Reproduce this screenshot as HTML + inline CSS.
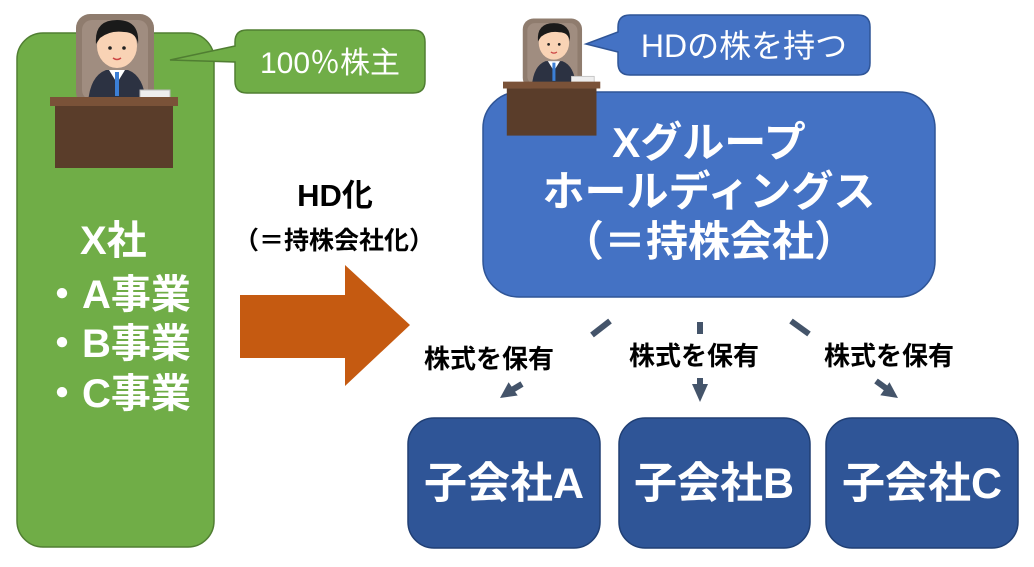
<!DOCTYPE html>
<html><head><meta charset="utf-8"><style>
html,body{margin:0;padding:0;background:#fff;}
svg{display:block;}
text{font-family:"Liberation Sans","Noto Sans CJK JP",sans-serif;}
</style></head><body>
<svg width="1034" height="567" viewBox="0 0 1034 567" xmlns="http://www.w3.org/2000/svg">
<defs>
<g id="fig">
  <rect x="26" y="6" width="78" height="92" rx="14" fill="#8f7c6e"/>
  <rect x="32" y="12" width="66" height="80" rx="10" fill="#a08d80"/>
  <path d="M38 95 Q40 68 56 62 L78 62 Q94 68 96 95 Z" fill="#2c3242"/>
  <path d="M59 62 L67 75 L75 62 Z" fill="#fff"/>
  <rect x="65" y="64" width="4" height="24" fill="#3b7fd6"/>
  <ellipse cx="67" cy="38" rx="20" ry="22" fill="#f9d3b5"/>
  <path d="M46 36 Q44 12 67 12 Q90 12 88 36 Q86 24 74 24 Q60 22 50 30 Z" fill="#1a1a1a"/>
  <circle cx="60" cy="40" r="1.8" fill="#222"/><circle cx="74" cy="40" r="1.8" fill="#222"/>
  <path d="M63 50 Q67 53 71 50" stroke="#c44" stroke-width="1.5" fill="none"/>
  <rect x="90" y="82" width="30" height="12" fill="#eee" stroke="#bbb"/>
  <rect x="0" y="89" width="128" height="9" fill="#7a5238"/>
  <rect x="5" y="98" width="118" height="62" fill="#5a3d2a"/>
</g>
</defs>

<rect x="17" y="33" width="197" height="514" rx="26" fill="#70ad47" stroke="#507e32" stroke-width="1.5"/>
<use href="#fig" x="50" y="8"/>
<path d="M247 30 H413 Q425 30 425 42 V81 Q425 93 413 93 H247 Q235 93 235 81 V62 L170 60 L235 46 V42 Q235 30 247 30 Z" fill="#70ad47" stroke="#507e32" stroke-width="1.5"/>
<text x="330" y="73" font-size="30" fill="#fff" text-anchor="middle">100％株主</text>

<g fill="#fff" font-size="40" font-weight="bold">
<text x="80" y="254">X社</text>
<text x="42" y="308">・A事業</text>
<text x="42" y="357">・B事業</text>
<text x="42" y="407">・C事業</text>
</g>

<text x="335" y="206" font-size="31" font-weight="bold" text-anchor="middle" fill="#000">HD化</text>
<text x="334" y="249" font-size="25" font-weight="bold" text-anchor="middle" fill="#000">（＝持株会社化）</text>
<polygon points="240,295 345,295 345,265 410,325 345,386 345,358 240,358" fill="#c55a11"/>

<rect x="483" y="92" width="452" height="205" rx="36" fill="#4472c4" stroke="#2f5597" stroke-width="1.5"/>
<use href="#fig" transform="translate(503,14) scale(0.76)"/>
<path d="M630 15 H858 Q870 15 870 27 V63 Q870 75 858 75 H630 Q618 75 618 63 V52 L586 44 L618 32 V27 Q618 15 630 15 Z" fill="#4472c4" stroke="#2f5597" stroke-width="1.5"/>
<text x="744" y="57" font-size="32" fill="#fff" text-anchor="middle">HDの株を持つ</text>
<g fill="#fff" font-size="42" font-weight="bold" text-anchor="middle">
<text x="709" y="157">Xグループ</text>
<text x="709" y="206">ホールディングス</text>
<text x="709" y="256">（＝持株会社）</text>
</g>

<g stroke="#44546a" stroke-width="6">
<line x1="610" y1="321" x2="592" y2="335"/>
<line x1="700" y1="322" x2="700" y2="334"/>
<line x1="791" y1="321" x2="809" y2="334"/>
<line x1="522" y1="384" x2="512" y2="390"/>
<line x1="700" y1="378" x2="700" y2="387"/>
<line x1="876" y1="381" x2="887" y2="389"/>
</g>
<polygon points="500,398 508.6,382.3 517.7,395.5" fill="#44546a"/>
<polygon points="692,384 708,384 700,402" fill="#44546a"/>
<polygon points="898,398 880.3,395.3 889.5,382.3" fill="#44546a"/>

<g font-size="26" font-weight="bold" fill="#000" text-anchor="middle">
<text x="489" y="368">株式を保有</text>
<text x="694" y="365">株式を保有</text>
<text x="889" y="365">株式を保有</text>
</g>

<g fill="#2f5597" stroke="#203f74" stroke-width="1.5">
<rect x="408" y="418" width="192" height="130" rx="26"/>
<rect x="619" y="418" width="191" height="130" rx="26"/>
<rect x="826" y="418" width="192" height="130" rx="26"/>
</g>
<g fill="#fff" font-size="43" font-weight="bold" text-anchor="middle">
<text x="504" y="498">子会社A</text>
<text x="714" y="498">子会社B</text>
<text x="922" y="498">子会社C</text>
</g>
</svg>
</body></html>
